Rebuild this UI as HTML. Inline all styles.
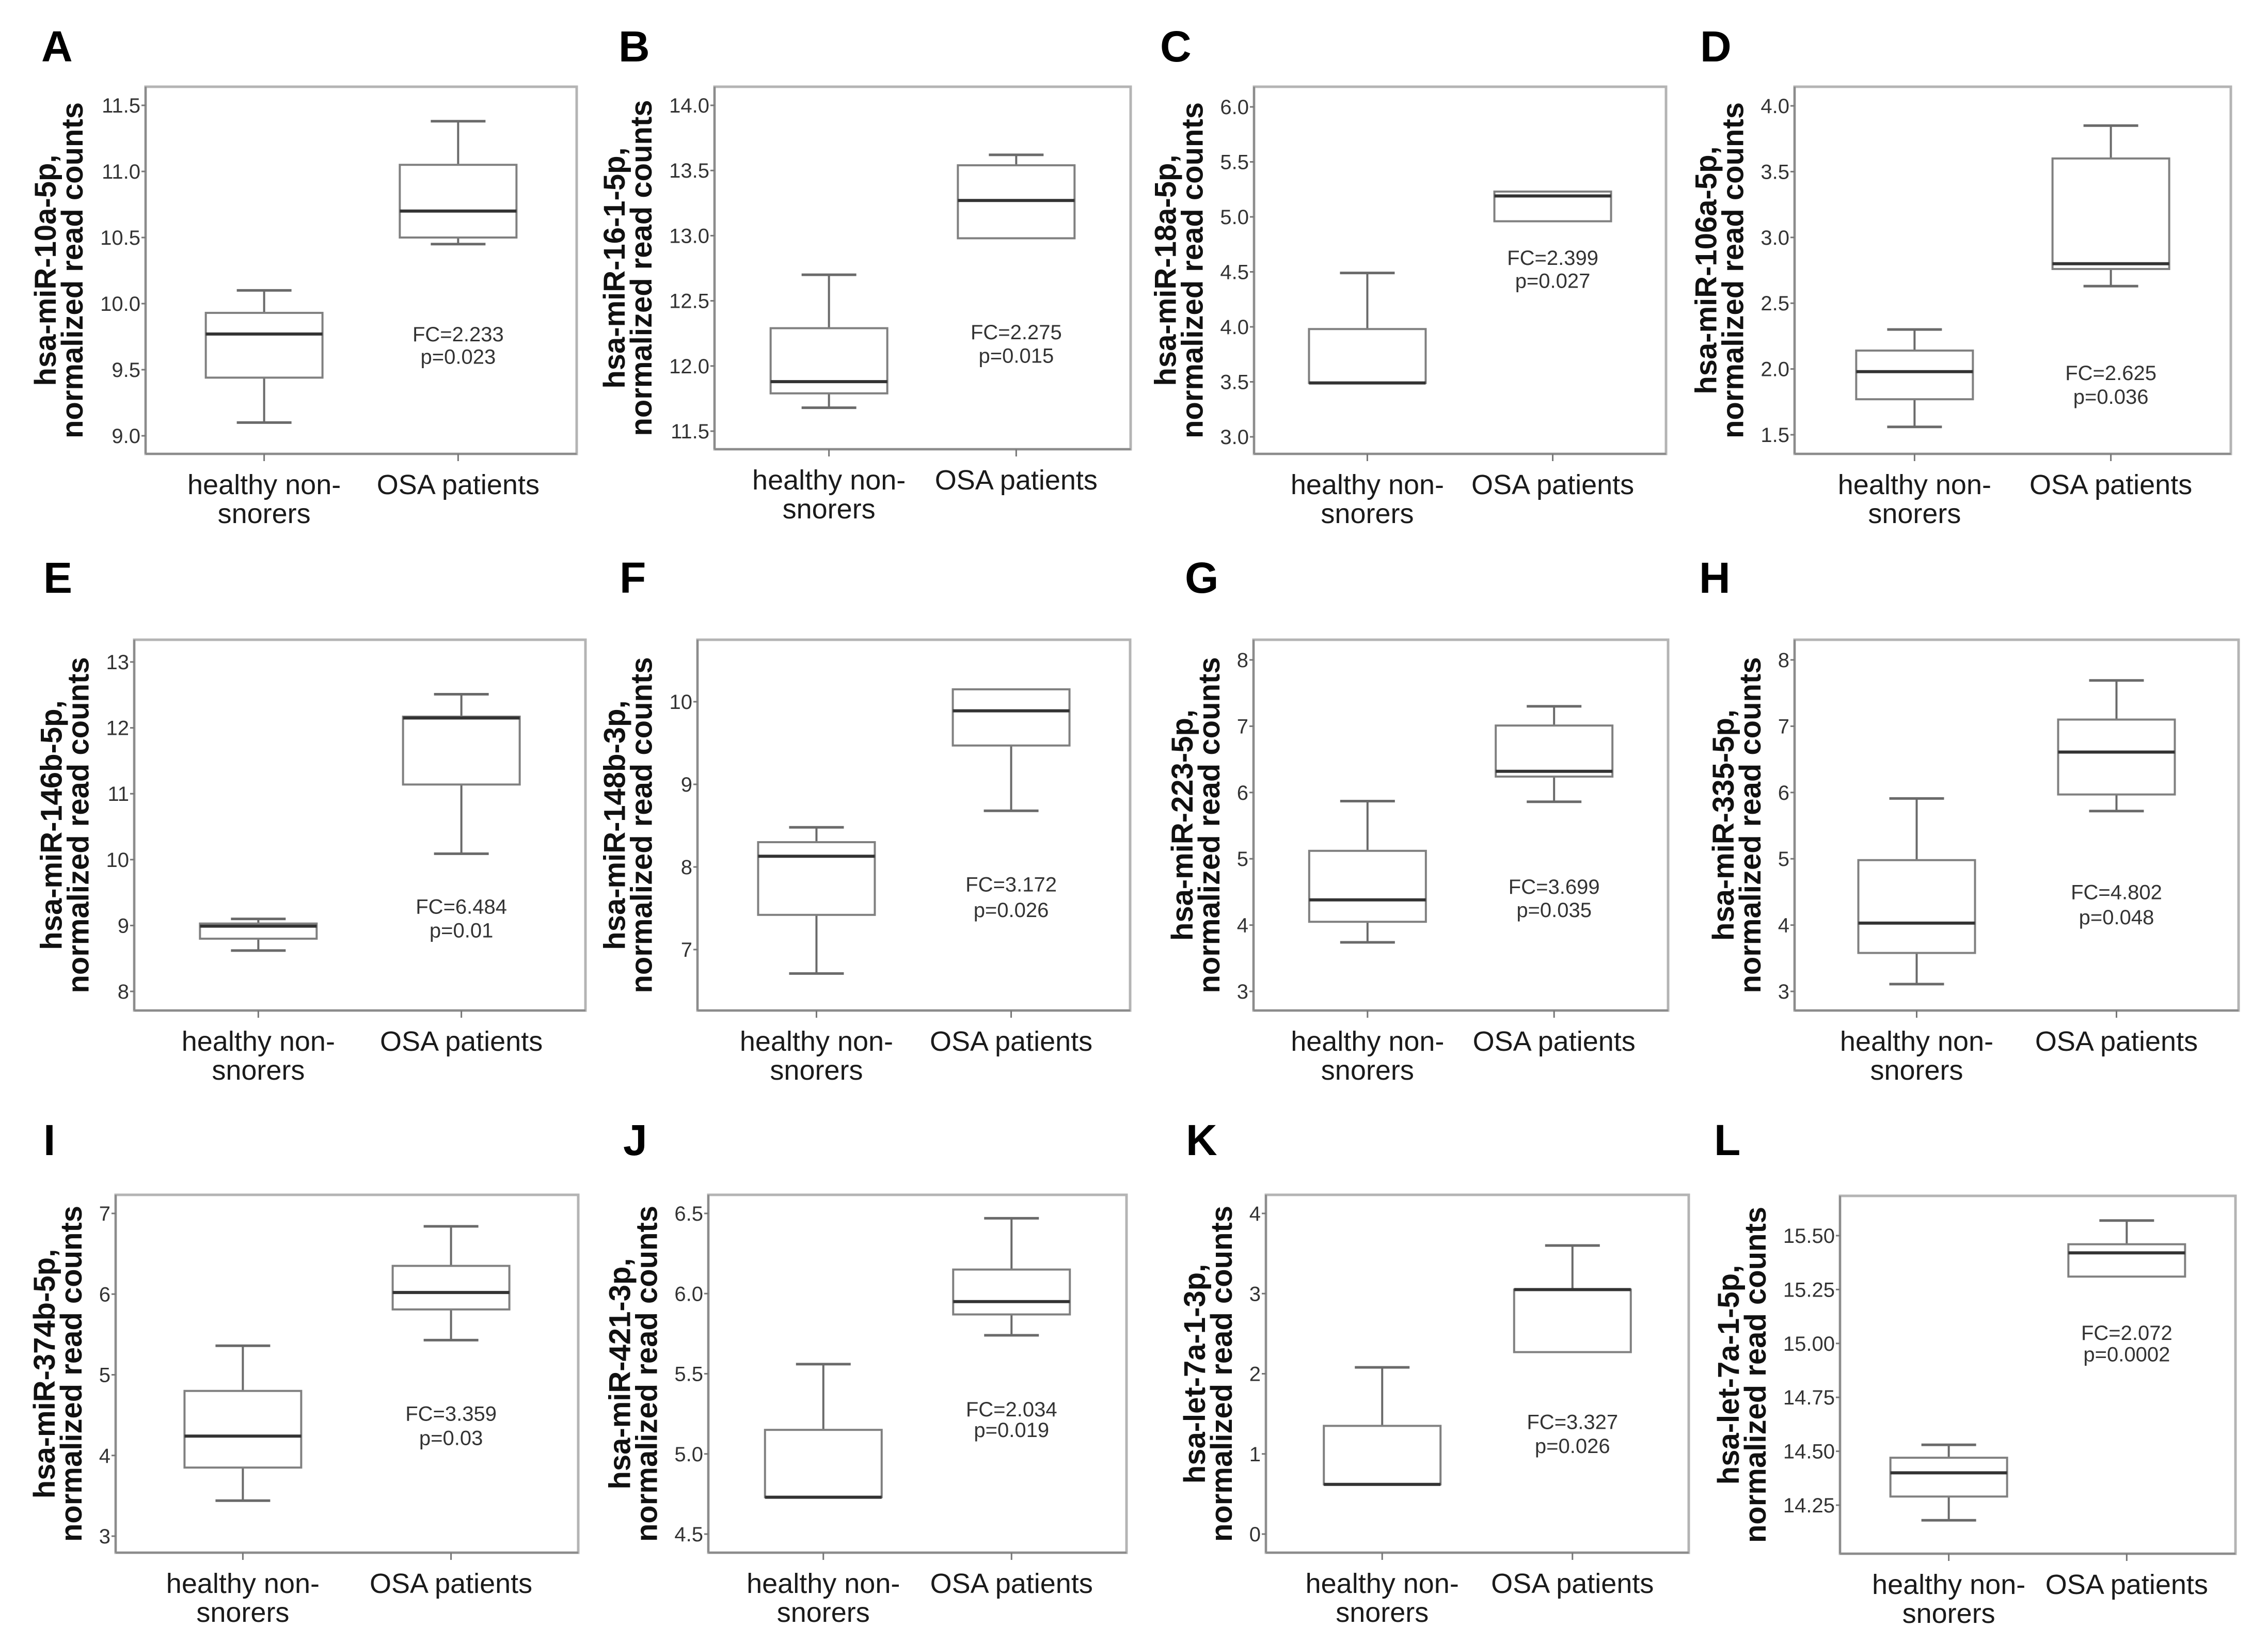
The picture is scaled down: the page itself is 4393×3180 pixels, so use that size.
<!DOCTYPE html>
<html><head><meta charset="utf-8"><style>
html,body{margin:0;padding:0;background:#fff;}
svg{display:block;font-family:"Liberation Sans",Arial,sans-serif;}
</style></head><body>
<svg id="fig" width="4393" height="3180" viewBox="0 0 4393 3180" xmlns="http://www.w3.org/2000/svg"></svg>
<script>
// ---- data ----
const categories = ["healthy non-|snorers", "OSA patients"];
const panelLetters = ["A","B","C","D","E","F","G","H","I","J","K","L"];
const yTitles = ["hsa-miR-10a-5p,","hsa-miR-16-1-5p,","hsa-miR-18a-5p,","hsa-miR-106a-5p,","hsa-miR-146b-5p,","hsa-miR-148b-3p,","hsa-miR-223-5p,","hsa-miR-335-5p,","hsa-miR-374b-5p,","hsa-miR-421-3p,","hsa-let-7a-1-3p,","hsa-let-7a-1-5p,"];
const tickLabels = [
 ["9.0","9.5","10.0","10.5","11.0","11.5"],
 ["11.5","12.0","12.5","13.0","13.5","14.0"],
 ["3.0","3.5","4.0","4.5","5.0","5.5","6.0"],
 ["1.5","2.0","2.5","3.0","3.5","4.0"],
 ["8","9","10","11","12","13"],
 ["7","8","9","10"],
 ["3","4","5","6","7","8"],
 ["3","4","5","6","7","8"],
 ["3","4","5","6","7"],
 ["4.5","5.0","5.5","6.0","6.5"],
 ["0","1","2","3","4"],
 ["14.25","14.50","14.75","15.00","15.25","15.50"]
];
// [low whisker, q1, median, q3, high whisker]
const healthyStats = [
 [9.10,9.44,9.77,9.93,10.10],
 [11.68,11.79,11.88,12.29,12.70],
 [3.49,3.49,3.49,3.98,4.49],
 [1.56,1.77,1.98,2.14,2.30],
 [8.62,8.80,8.99,9.03,9.10],
 [6.71,7.42,8.13,8.30,8.48],
 [3.74,4.05,4.38,5.12,5.87],
 [3.11,3.58,4.03,4.98,5.91],
 [3.44,3.85,4.24,4.80,5.36],
 [4.73,4.73,4.73,5.15,5.56],
 [0.62,0.62,0.62,1.35,2.08],
 [14.18,14.29,14.40,14.47,14.53]
];
const osaStats = [
 [10.45,10.50,10.70,11.05,11.38],
 [12.98,12.98,13.27,13.54,13.62],
 [4.96,4.96,5.19,5.23,5.23],
 [2.63,2.76,2.80,3.60,3.85],
 [10.09,11.14,12.15,12.17,12.51],
 [8.68,9.47,9.89,10.15,10.15],
 [5.86,6.24,6.32,7.01,7.30],
 [5.72,5.97,6.61,7.10,7.69],
 [5.43,5.81,6.02,6.35,6.84],
 [5.74,5.87,5.95,6.15,6.47],
 [2.27,2.27,3.05,3.05,3.60],
 [15.31,15.31,15.42,15.46,15.57]
];
const fcTexts = ["FC=2.233","FC=2.275","FC=2.399","FC=2.625","FC=6.484","FC=3.172","FC=3.699","FC=4.802","FC=3.359","FC=2.034","FC=3.327","FC=2.072"];
const pTexts = ["p=0.023","p=0.015","p=0.027","p=0.036","p=0.01","p=0.026","p=0.035","p=0.048","p=0.03","p=0.019","p=0.026","p=0.0002"];
const fcValues = [9.77,12.26,4.63,1.97,9.29,7.79,4.58,4.50,4.52,5.28,1.40,15.05];
const pValues = [9.60,12.08,4.42,1.79,8.93,7.48,4.23,4.12,4.22,5.15,1.10,14.95];

// ---- layout (pixels) ----
const frames = [
 [282,168,1117,879],[1384,168,2190,870],[2429,168,3227,879],[3476,168,4321,879],
 [260,1239,1134,1957],[1351,1239,2189,1957],[2428,1239,3231,1957],[3476,1239,4336,1957],
 [224,2314,1120,3007],[1372,2314,2182,3007],[2452,2314,3271,3007],[3564,2316,4330,3009]
];
const tickPix = [[844,204],[835,204],[846,207],[842,205],[1920,1282],[1839,1359],[1920,1278],[1920,1278],[2975,2350],[2971,2350],[2971,2350],[2915,2393]];
const letterPos = [[80,119],[1198,119],[2247,119],[3293,119],[84,1148],[1200,1148],[2295,1148],[3291,1148],[84,2237],[1207,2237],[2297,2237],[3320,2237]];

const NS = "http://www.w3.org/2000/svg";
const svg = document.getElementById("fig");
function mk(tag, attrs, parent){
  const e = document.createElementNS(NS, tag);
  for (const k in attrs) e.setAttribute(k, attrs[k]);
  (parent||svg).appendChild(e);
  return e;
}

panelLetters.forEach((L, i) => {
  const g = mk("g", {});
  
  
  const [x0,y0,x1,y1] = frames[i];
  const ticks = tickLabels[i].map(Number);
  const tMin = ticks[0], tMax = ticks[ticks.length-1];
  const [pMin,pMax] = tickPix[i];
  const yScale = v => pMin + (v - tMin) * (pMax - pMin) / (tMax - tMin);
  const xScale = ci => x0 + (x1 - x0) * (0.275 + 0.45 * ci);

  const lt = mk("text", {x:letterPos[i][0], y:letterPos[i][1], "font-size":84, "font-weight":"bold", fill:"#000"}, g);
  lt.textContent = L;
  
  

  const fr = mk("rect", {x:x0, y:y0, width:x1-x0, height:y1-y0, fill:"#fff", stroke:"#b4b4b4", "stroke-width":5}, g);
  
  
  mk("line", {x1:x0, y1:y0, x2:x0, y2:y1, stroke:"#8c8c8c", "stroke-width":4}, g);
  mk("line", {x1:x0, y1:y1, x2:x1, y2:y1, stroke:"#8c8c8c", "stroke-width":4}, g);

  let maxW = 0;
  tickLabels[i].forEach((lab, k) => {
    const yy = yScale(ticks[k]);
    mk("line", {x1:x0-8, y1:yy, x2:x0, y2:yy, stroke:"#777", "stroke-width":3}, g);
    const t = mk("text", {x:x0-10, y:yy+14, "font-size":40, "text-anchor":"end", fill:"#333"}, g);
    t.textContent = lab;
    
    
    maxW = Math.max(maxW, t.getComputedTextLength());
  });

  const bx2 = x0 - 10 - maxW - 34;
  const bx1 = bx2 - 52;
  const ty = (y0 + y1) / 2;
  const t1 = mk("text", {x:0, y:0, "font-size":58, "font-weight":"bold", "text-anchor":"middle", fill:"#111", transform:`translate(${bx1},${ty}) rotate(-90)`}, g);
  t1.textContent = yTitles[i];
  
  
  const t2 = mk("text", {x:0, y:0, "font-size":58, "font-weight":"bold", "text-anchor":"middle", fill:"#111", transform:`translate(${bx2},${ty}) rotate(-90)`}, g);
  t2.textContent = "normalized read counts";
  
  

  categories.forEach((c, ci) => {
    const cx = xScale(ci);
    mk("line", {x1:cx, y1:y1, x2:cx, y2:y1+14, stroke:"#777", "stroke-width":3}, g);
    c.split("|").forEach((ln, li) => {
      const t = mk("text", {x:cx, y:y1+78+li*56, "font-size":54, "text-anchor":"middle", fill:"#1a1a1a"}, g);
      t.textContent = ln;
      
      
    });
  });

  [healthyStats[i], osaStats[i]].forEach((s, ci) => {
    const cx = xScale(ci), bw = 226, cw = 106;
    const bg = mk("g", {}, g);
    
    
    const [lo,q1,md,q3,hi] = s;
    mk("line", {x1:cx, y1:yScale(hi), x2:cx, y2:yScale(q3), stroke:"#6a6a6a", "stroke-width":4}, bg);
    mk("line", {x1:cx, y1:yScale(q1), x2:cx, y2:yScale(lo), stroke:"#6a6a6a", "stroke-width":4}, bg);
    if (hi > q3) mk("line", {x1:cx-cw/2, y1:yScale(hi), x2:cx+cw/2, y2:yScale(hi), stroke:"#6a6a6a", "stroke-width":5}, bg);
    if (lo < q1) mk("line", {x1:cx-cw/2, y1:yScale(lo), x2:cx+cw/2, y2:yScale(lo), stroke:"#6a6a6a", "stroke-width":5}, bg);
    mk("rect", {x:cx-bw/2, y:yScale(q3), width:bw, height:Math.max(1, yScale(q1)-yScale(q3)), fill:"#fff", stroke:"#808080", "stroke-width":4}, bg);
    mk("line", {x1:cx-bw/2, y1:yScale(md), x2:cx+bw/2, y2:yScale(md), stroke:"#333", "stroke-width":6}, bg);
  });

  const ax = xScale(1);
  const fc = mk("text", {x:ax, y:yScale(fcValues[i])+14, "font-size":40, "text-anchor":"middle", fill:"#333"}, g);
  fc.textContent = fcTexts[i];
  
  
  const pv = mk("text", {x:ax, y:yScale(pValues[i])+14, "font-size":40, "text-anchor":"middle", fill:"#333"}, g);
  pv.textContent = pTexts[i];
  
  
});
</script>
</body></html>
